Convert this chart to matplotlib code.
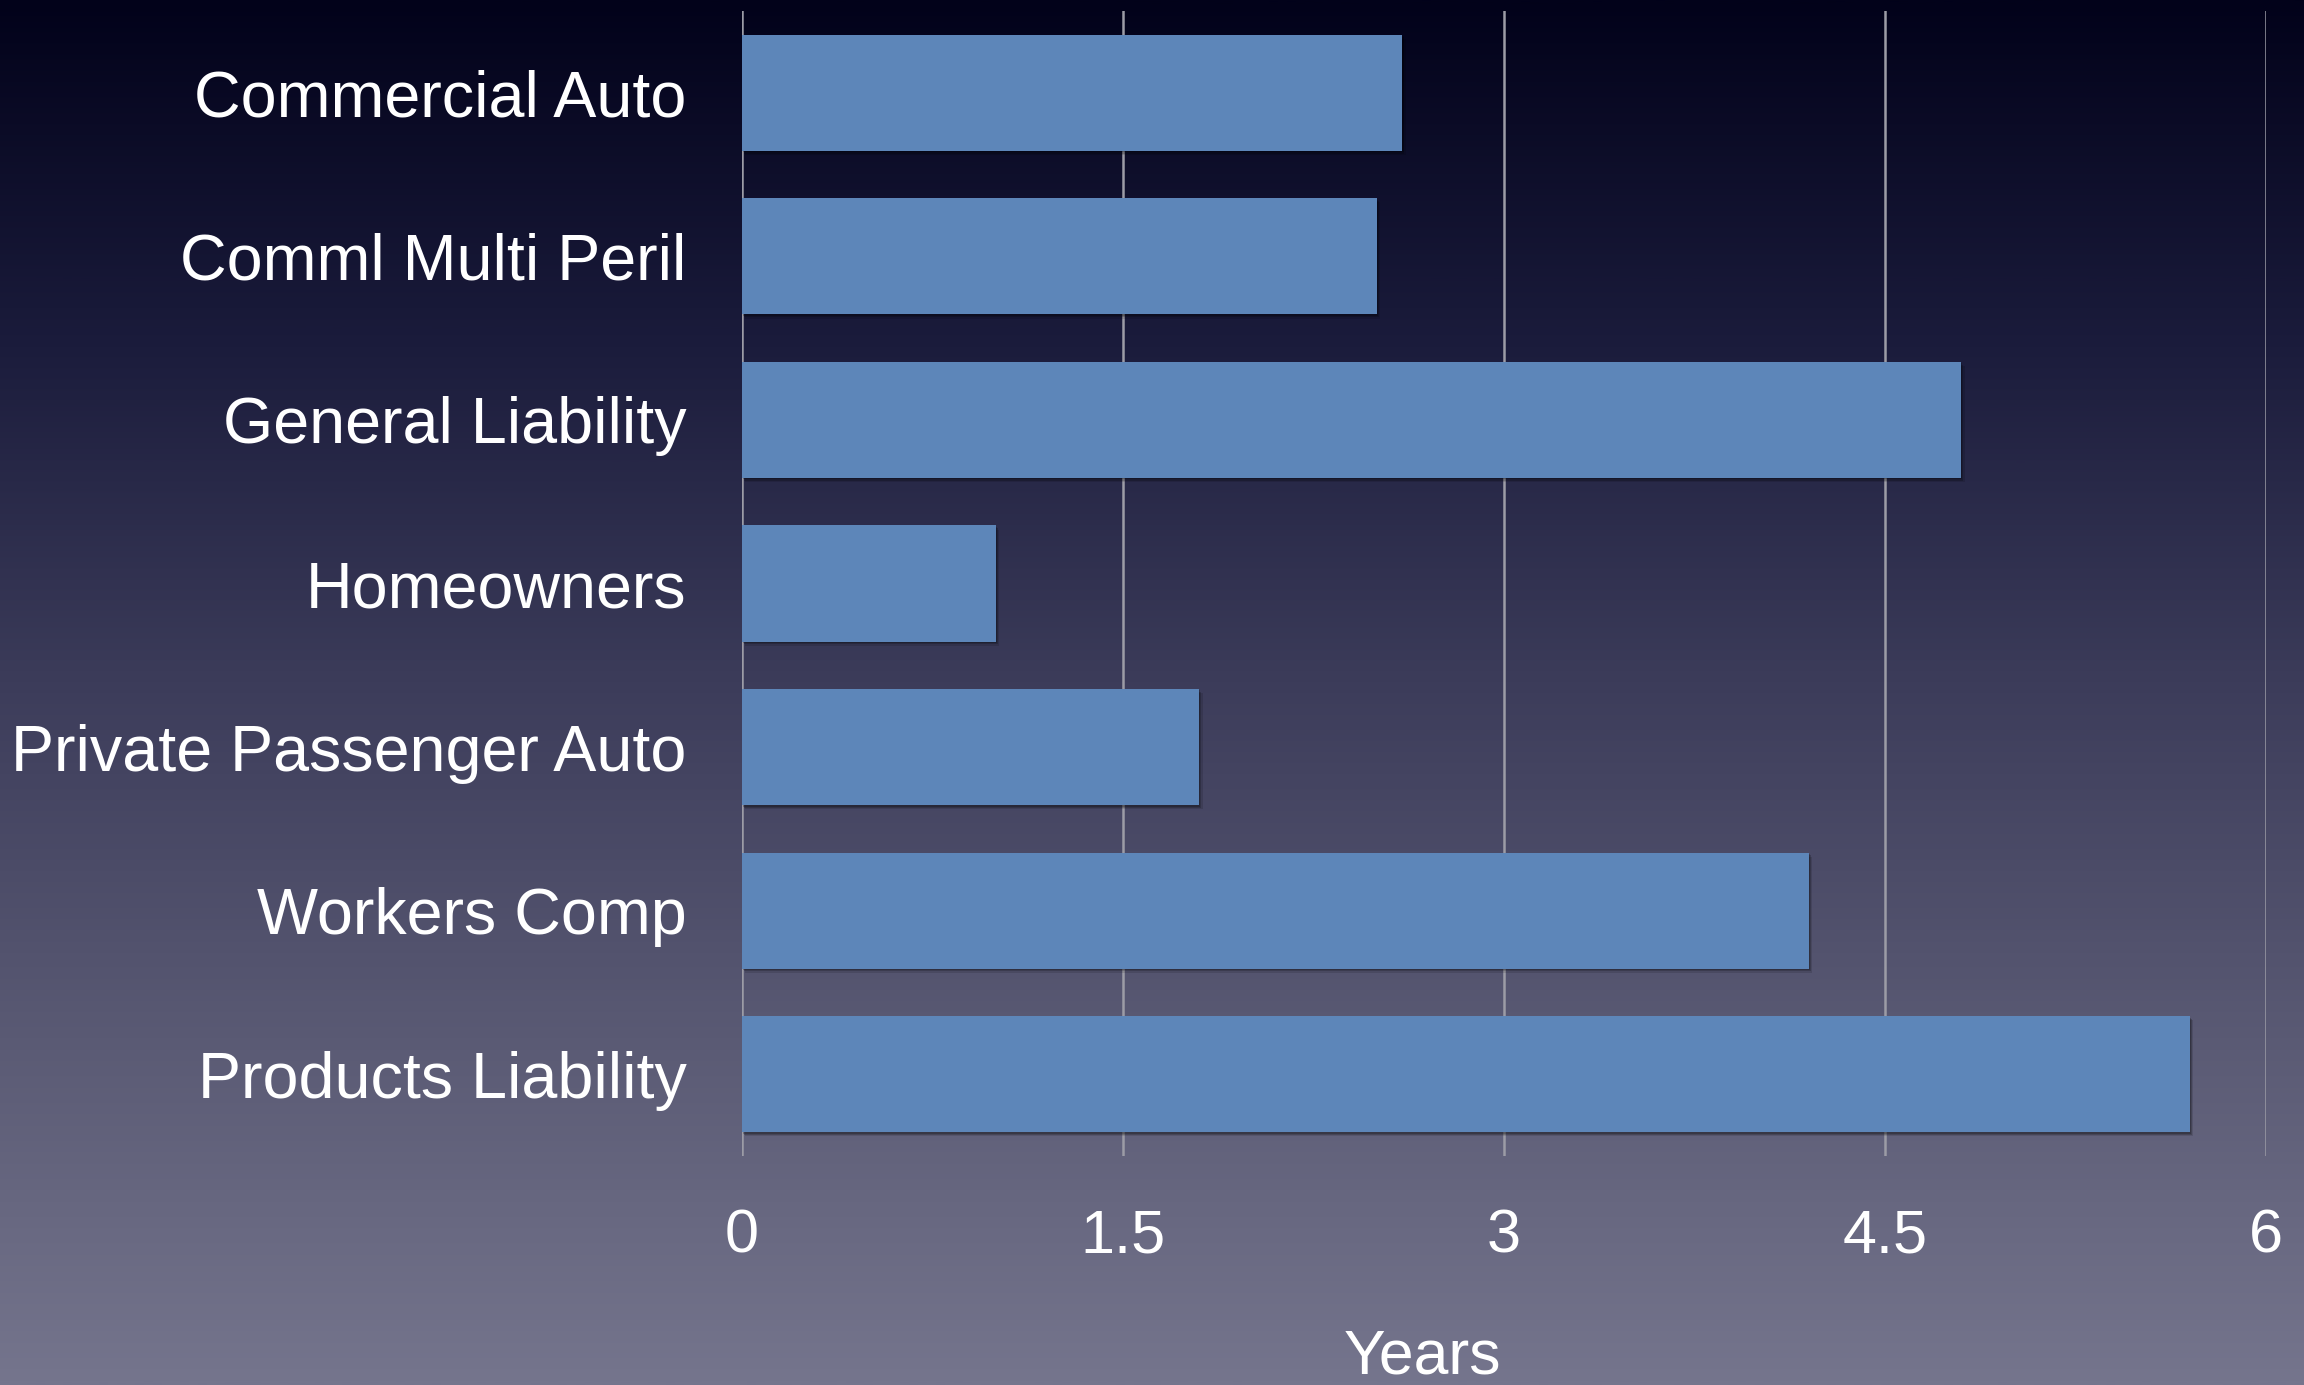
import numpy as np
import matplotlib
matplotlib.use('Agg')
import matplotlib.pyplot as plt
from matplotlib.colors import LinearSegmentedColormap
from matplotlib import patheffects as pe

# datos
categories = ['Commercial Auto', 'Comml Multi Peril', 'General Liability', 'Homeowners',
              'Private Passenger Auto', 'Workers Comp', 'Products Liability']
years = [2.6, 2.5, 4.8, 1.0, 1.8, 4.2, 5.7]
xticks = [0, 1.5, 3, 4.5, 6]
xtick_labels = ['0', '1.5', '3', '4.5', '6']

plt.rcParams['font.family'] = ['Liberation Sans', 'DejaVu Sans']

fig = plt.figure(figsize=(23.04, 13.85), dpi=100)

# fondo degradado
bg = fig.add_axes([0, 0, 1, 1], zorder=-10)
cmap = LinearSegmentedColormap.from_list('bg', [
    (0.0, '#02021a'), (0.25, '#1b1c3c'), (0.5, '#3d3d5b'),
    (0.75, '#5a5a74'), (1.0, '#75758d')])
grad = np.linspace(0, 1, 512).reshape(-1, 1)
bg.imshow(grad, aspect='auto', cmap=cmap, extent=[0, 1, 1, 0])
bg.set_axis_off()

ax = fig.add_axes([742 / 2304, 1 - 1156 / 1385, (2266 - 742) / 2304, (1156 - 11) / 1385])
ax.patch.set_alpha(0)

y = np.arange(len(categories))
bars = ax.barh(y, years, height=0.71, color='#5d86b9', zorder=3)
# sombra suave
for b in bars:
    b.set_path_effects([pe.SimplePatchShadow(offset=(2.5, -3), shadow_rgbFace='black', alpha=0.12),
                        pe.SimplePatchShadow(offset=(1.5, -2), shadow_rgbFace='black', alpha=0.18),
                        pe.SimplePatchShadow(offset=(0.8, -1), shadow_rgbFace='black', alpha=0.2),
                        pe.Normal()])

ax.set_xlim(0, 6)
ax.set_ylim(len(categories) - 0.5, -0.5)
ax.set_yticks(y)
ax.set_yticklabels(categories, fontsize=46.5, color='white')
ax.set_xticks(xticks)
ax.set_xticklabels(xtick_labels, fontsize=44, color='white')
ax.tick_params(axis='y', length=0, pad=40)
ax.tick_params(axis='x', length=0, pad=38)

for v in xticks:
    ax.axvline(v, color='#9c9ca6', lw=1.8, zorder=1)

for s in ax.spines.values():
    s.set_visible(False)

fig.text(1422 / 2304, 1 - 1374 / 1385, 'Years', fontsize=45, color='white',
         ha='center', va='baseline')

fig.savefig('out.png', dpi=100)
